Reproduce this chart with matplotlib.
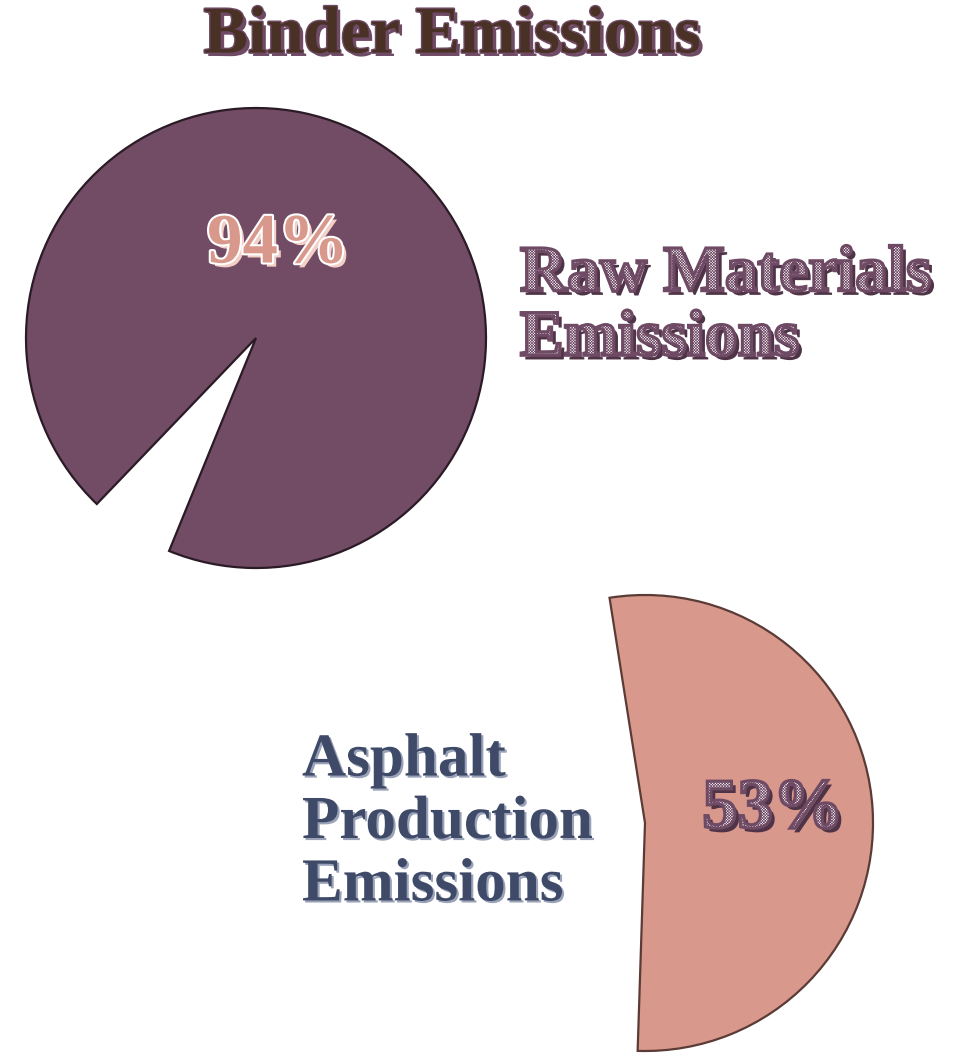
import matplotlib
matplotlib.use('Agg')
from matplotlib import pyplot as plt
from matplotlib import patheffects as pe

# values
raw_share = [94, 6]
asphalt_share = [53, 47]
raw_label = 'Raw Materials\nEmissions'
asphalt_label = 'Asphalt\nProduction\nEmissions'
title = 'Binder Emissions'

purple = '#724b64'
salmon = '#d9988c'
slate = '#3e4a68'

plt.rcParams['font.family'] = ['Liberation Serif', 'DejaVu Serif']
plt.rcParams['hatch.linewidth'] = 0.5

W, H = 967, 1054
fig = plt.figure(figsize=(W / 100, H / 100), dpi=100)
ax = fig.add_axes([0, 0, 1, 1])

# top pie, only the 94% wedge is shown
wedges, _ = ax.pie(raw_share, center=(256, 716), radius=230, startangle=-112.2,
                   colors=[purple, 'none'],
                   wedgeprops=dict(edgecolor='#2b1b26', linewidth=1.6))
wedges[1].set_edgecolor('none')

# bottom pie, only the 53% wedge
wedges2, _ = ax.pie(asphalt_share, center=(645, 231), radius=228, startangle=-91.85,
                    colors=[salmon, 'none'],
                    wedgeprops=dict(edgecolor='#5b3b36', linewidth=1.6))
wedges2[1].set_edgecolor('none')

ax.set_xlim(0, W)
ax.set_ylim(0, H)
ax.set_aspect('equal')
ax.axis('off')

hatched = lambda: [pe.SimplePatchShadow(offset=(3, -3), shadow_rgbFace='#4f3346', alpha=1),
                   pe.PathPatchEffect(facecolor='white', edgecolor='#6f4a64', hatch='x' * 12,
                                      linewidth=2.2)]

# title
ax.text(452, 1018, title, ha='center', va='center', fontsize=48, fontweight='bold',
        color='#4a3126',
        path_effects=[pe.SimplePatchShadow(offset=(2.5, -2.5), shadow_rgbFace='#6f4a64', alpha=1),
                      pe.Stroke(linewidth=2, foreground='#6f4a64'), pe.Normal()])

# percentage labels
ax.text(278, 809, f'{raw_share[0]}%', ha='center', va='center', fontsize=51, fontweight='bold',
        color=salmon,
        path_effects=[pe.SimplePatchShadow(offset=(3, -3), shadow_rgbFace='#f3cfc8', alpha=1),
                      pe.Stroke(linewidth=3, foreground='white'), pe.Normal()])

ax.text(773, 244, f'{asphalt_share[0]}%', ha='center', va='center', fontsize=51, fontweight='bold',
        path_effects=hatched())

# category labels
ax.text(520, 747, raw_label, ha='left', va='center', fontsize=47, fontweight='bold',
        linespacing=1.1, path_effects=hatched())

ax.text(302, 231, asphalt_label, ha='left', va='center', fontsize=44, fontweight='bold',
        color=slate, linespacing=1.15,
        path_effects=[pe.SimplePatchShadow(offset=(1.5, -1.5), shadow_rgbFace='#9aa2b8', alpha=1),
                      pe.Normal()])

fig.savefig('out.png', dpi=100)
